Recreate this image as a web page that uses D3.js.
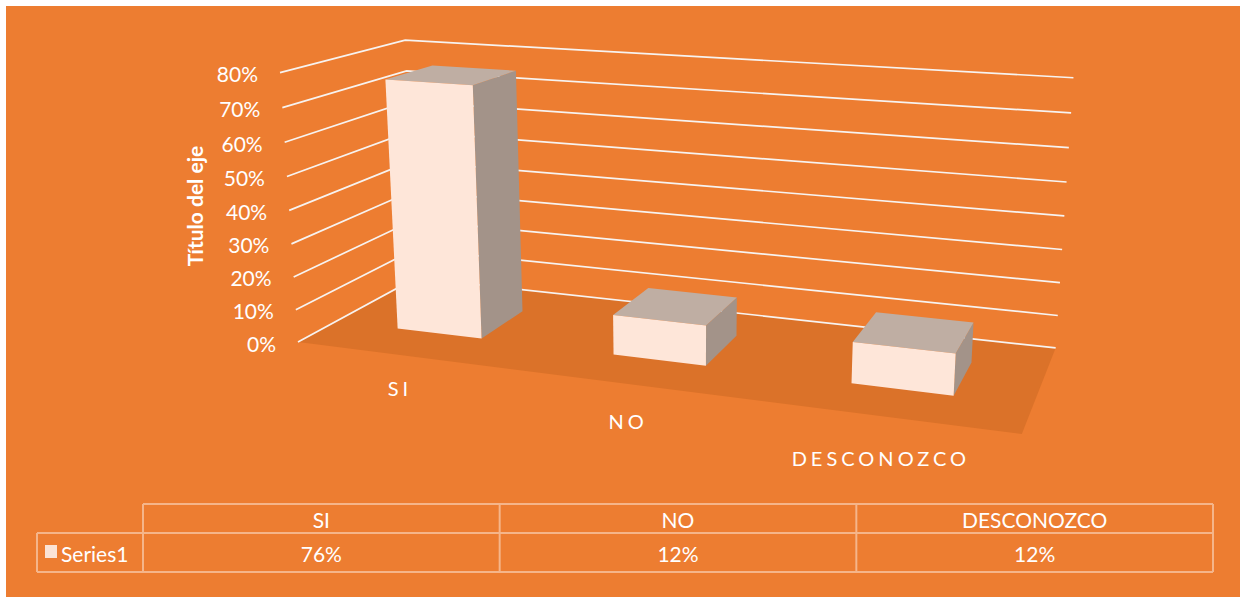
<!DOCTYPE html>
<html>
<head>
<meta charset="utf-8">
<script src="https://cdn.jsdelivr.net/npm/d3@7"></script>
<style>
  html, body { margin: 0; padding: 0; background: #ffffff; }
  svg { display: block; }
  text { font-family: Lato, "Open Sans", sans-serif; fill: #ffffff; }
</style>
</head>
<body>
<svg id="chart" width="1240" height="597"></svg>
<script>
// ---- Data ----
const categories = ["SI", "NO", "DESCONOZCO"];
const seriesName = "Series1";
const seriesValues = [0.76, 0.12, 0.12];
const tableValueLabels = ["76%", "12%", "12%"];
const tickValues = [0, 0.1, 0.2, 0.3, 0.4, 0.5, 0.6, 0.7, 0.8];
const axisTitle = "Título del eje";

// ---- Layout / style ----
const W = 1240, H = 597;
const C = {
  bg: "#ED7D31", floor: "#DB7229", grid: "#F7F3F0",
  front: "#FEE6D9", top: "#BFAEA3", side: "#A39389",
  tableLine: "#F5B58A", legend: "#FBE3D5"
};

const svg = d3.select("#chart");
svg.append("rect").attr("x", 6).attr("y", 6).attr("width", W - 6).attr("height", H - 6).attr("fill", C.bg);

// Perspective projection: world X (category) in [0,1], Y (depth) in [0,1], Z (height) in [0,1]
const O  = [298, 342];
const VX = [-4047, -210], a = -0.1428;
const VY = [1264, -182],  b = 0.1392;
const VZ = [680, 6060],   c = -0.045;
function project(X, Y, Z) {
  const p = a * X, q = b * Y, r = c * Z;
  const w = 1 + p + q + r;
  return [(O[0] + p * VX[0] + q * VY[0] + r * VZ[0]) / w,
          (O[1] + p * VX[1] + q * VY[1] + r * VZ[1]) / w];
}

const xBand = d3.scaleBand().domain(categories).range([0, 1]).paddingInner(0).paddingOuter(0);
const zScale = d3.scaleLinear().domain([0, 0.8]).range([0, 1]);
const yFront = 0.3, yBack = 0.7;

const line = d3.line();
const g = svg.append("g");

// floor
g.append("path")
  .attr("d", line([project(0,0,0), project(1,0,0), project(1,1,0), project(0,1,0)]) + "Z")
  .attr("fill", C.floor);

// gridlines (left wall + back wall)
g.selectAll(".grid").data(tickValues).join("path")
  .attr("class", "grid")
  .attr("d", t => line([project(0,0,zScale(t)), project(0,1,zScale(t)), project(1,1,zScale(t))]))
  .attr("fill", "none").attr("stroke", C.grid).attr("stroke-width", 1.7);

// tick labels
const fmt = d3.format(".0%");
g.selectAll(".tick").data(tickValues).join("text")
  .attr("class", "tick")
  .attr("x", t => project(0,0,zScale(t))[0] - 22)
  .attr("y", t => project(0,0,zScale(t))[1] + 1)
  .attr("text-anchor", "end").attr("dominant-baseline", "central")
  .attr("font-size", 21)
  .text(t => fmt(t));

// axis title
const tp = [194, 206];
g.append("text")
  .attr("transform", `translate(${tp[0]},${tp[1]}) rotate(-90)`)
  .attr("text-anchor", "middle").attr("dominant-baseline", "central")
  .attr("font-size", 21).attr("font-weight", "bold")
  .text(axisTitle);

// bars
const bars = categories.map((cat, i) => {
  const x0 = xBand(cat) + xBand.bandwidth() * 0.3;
  const x1 = xBand(cat) + xBand.bandwidth() * 0.7;
  const h = zScale(seriesValues[i]);
  return {cat, x0, x1, h};
});
const bg = g.selectAll(".bar").data(bars).join("g").attr("class", "bar");
bg.append("path").attr("fill", C.side)
  .attr("d", d => line([project(d.x1,yFront,0), project(d.x1,yBack,0), project(d.x1,yBack,d.h), project(d.x1,yFront,d.h)]) + "Z");
bg.append("path").attr("fill", C.top)
  .attr("d", d => line([project(d.x0,yFront,d.h), project(d.x1,yFront,d.h), project(d.x1,yBack,d.h), project(d.x0,yBack,d.h)]) + "Z");
bg.append("path").attr("fill", C.front)
  .attr("d", d => line([project(d.x0,yFront,0), project(d.x1,yFront,0), project(d.x1,yFront,d.h), project(d.x0,yFront,d.h)]) + "Z");

// category labels
g.selectAll(".cat").data(categories).join("text")
  .attr("class", "cat")
  .attr("x", d => { const X = xBand(d) + xBand.bandwidth() / 2; return project(X,0,0)[0] - 4; })
  .attr("y", d => { const X = xBand(d) + xBand.bandwidth() / 2; return project(X,0,0)[1] + 30 + 14 * X; })
  .attr("text-anchor", "middle").attr("dominant-baseline", "central")
  .attr("font-size", 20).attr("letter-spacing", 4)
  .text(d => d);

// data table
const colX = d3.scaleBand().domain(categories).range([143, 1213]);
const rowTop = 504, rowMid = 533, rowBot = 572, legLeft = 37;
const tg = svg.append("g");
const ls = {stroke: C.tableLine, w: 2};
function hl(x1, x2, y) { tg.append("line").attr("x1", x1).attr("x2", x2).attr("y1", y).attr("y2", y).attr("stroke", ls.stroke).attr("stroke-width", ls.w); }
function vl(x, y1, y2) { tg.append("line").attr("x1", x).attr("x2", x).attr("y1", y1).attr("y2", y2).attr("stroke", ls.stroke).attr("stroke-width", ls.w); }
hl(143, 1213, rowTop);
hl(legLeft, 1213, rowMid);
hl(legLeft, 1213, rowBot);
vl(legLeft, rowMid, rowBot);
categories.forEach(cat => vl(colX(cat), rowTop, rowBot));
vl(1213, rowTop, rowBot);

tg.selectAll(".hdr").data(categories).join("text")
  .attr("x", d => colX(d) + colX.bandwidth() / 2).attr("y", (rowTop + rowMid) / 2 + 1)
  .attr("text-anchor", "middle").attr("dominant-baseline", "central")
  .attr("font-size", 21).text(d => d);
tg.selectAll(".val").data(tableValueLabels).join("text")
  .attr("x", (d, i) => colX(categories[i]) + colX.bandwidth() / 2).attr("y", (rowMid + rowBot) / 2 + 1)
  .attr("text-anchor", "middle").attr("dominant-baseline", "central")
  .attr("font-size", 21).text(d => d);
tg.append("rect").attr("x", 45).attr("y", 545).attr("width", 12).attr("height", 13).attr("fill", C.legend);
tg.append("text").attr("x", 61).attr("y", (rowMid + rowBot) / 2 + 1)
  .attr("dominant-baseline", "central").attr("font-size", 21).text(seriesName);
</script>
</body>
</html>
